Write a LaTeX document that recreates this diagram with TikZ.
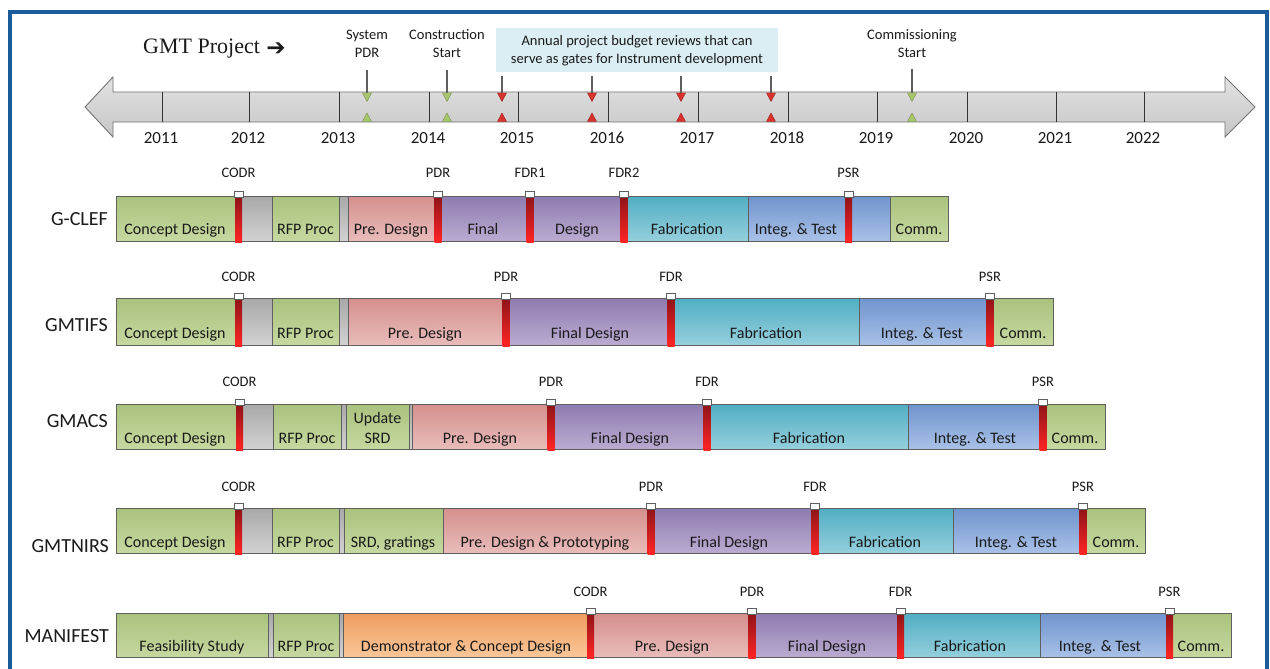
\documentclass[tikz,border=0pt]{standalone}
\usepackage{fontspec}
\setmainfont{Carlito}
\newfontfamily\timesf{Liberation Serif}
\newfontfamily\djv{DejaVu Sans}
\definecolor{frameblue}{HTML}{1B5C9B}
\definecolor{grnT}{HTML}{A9C27D}
\definecolor{grnB}{HTML}{C6D8A0}
\definecolor{gryT}{HTML}{A8A8A8}
\definecolor{gryB}{HTML}{D2D2D2}
\definecolor{pnkT}{HTML}{D58F8C}
\definecolor{pnkB}{HTML}{E8BCBA}
\definecolor{purT}{HTML}{8F7CB0}
\definecolor{purB}{HTML}{B9ABD1}
\definecolor{teaT}{HTML}{50AEC3}
\definecolor{teaB}{HTML}{95CFDD}
\definecolor{bluT}{HTML}{7094CE}
\definecolor{bluB}{HTML}{A8C1E7}
\definecolor{orgT}{HTML}{EE9C5E}
\definecolor{orgB}{HTML}{FAC799}
\definecolor{redT}{HTML}{8E1418}
\definecolor{redB}{HTML}{FF2424}
\definecolor{segline}{HTML}{5F5F5F}
\definecolor{txt}{HTML}{1A1A1A}
\definecolor{boxblue}{HTML}{DAEEF3}
\definecolor{tlT}{HTML}{E2E2E2}
\definecolor{tlB}{HTML}{C6C6C6}
\definecolor{trigrn}{HTML}{A8C66C}
\definecolor{trired}{HTML}{D9312B}
\newcommand\rT{0}
\newcommand\rB{0}
\newcommand\rBase{0}
\newcommand\rL{0}
\newcommand\rowid{r}
\newcommand\seg[5]{%
  \path[segbox,#1] (#2,\rT) rectangle (#3,\rB);
  \node[segtxt] (\rowid-t#2) at (#4,\rBase) {#5};}
\newcommand\segn[3]{%
  \path[segbox,#1] (#2,\rT) rectangle (#3,\rB);}
\newcommand\mrk[2]{%
  \path[redbar] (#1-3.5,\rT) rectangle (#1+3.5,\rB+1);
  \path[capbox] (#1-4.5,\rT-5) rectangle (#1+4.5,\rT+1);
  \node[mlabel] (\rowid-m#1) at (#1,\rL) {#2};}
\tikzset{
  segbox/.style={draw=segline,line width=0.9pt},
  grn/.style={top color=grnT,bottom color=grnB},
  gry/.style={top color=gryT,bottom color=gryB},
  pnk/.style={top color=pnkT,bottom color=pnkB},
  pur/.style={top color=purT,bottom color=purB},
  tea/.style={top color=teaT,bottom color=teaB},
  blu/.style={top color=bluT,bottom color=bluB},
  org/.style={top color=orgT,bottom color=orgB},
  segtxt/.style={anchor=base,inner sep=0pt,text=txt,font=\fontsize{16}{18}\selectfont},
  mlabel/.style={anchor=center,inner sep=0pt,text=txt,font=\fontsize{14.5}{16}\selectfont},
  rowlabel/.style={anchor=base east,inner sep=0pt,text=txt,font=\fontsize{20}{22}\selectfont},
  redbar/.style={top color=redT,bottom color=redB,draw=none},
  capbox/.style={fill=white,draw=segline,line width=0.9pt},
  yearlabel/.style={anchor=base,inner sep=0pt,text=txt,font=\fontsize{17}{18}\selectfont},
  toplabel/.style={anchor=center,inner sep=0pt,text=txt,align=center,font=\fontsize{14.5}{18}\selectfont},
  pointer/.style={draw=segline,line width=1.4pt},
}
\begin{document}
\begin{tikzpicture}[x=1pt,y=-1pt]
\useasboundingbox (0,0) rectangle (1270,669);
\fill[white] (0,0) rectangle (1270,669);
% frame
\draw[frameblue,line width=4pt] (9.5,680) -- (9.5,12.5) -- (1267,12.5) -- (1267,680);

% GMT project title
\node[anchor=base west,inner sep=0pt,text=txt,font=\timesf\fontsize{22}{24}\selectfont] (gmt) at (143,54) {GMT Project};
\node[anchor=west,inner sep=0pt,text=txt,font=\djv\bfseries\fontsize{23}{24}\selectfont] (gmtarrow) at ([xshift=6pt]gmt.east) {\char"2794};

% timeline arrow
\path[top color=tlT,bottom color=tlB,draw=gray!90!black,line width=0.9pt]
  (85,107) -- (113,77) -- (113,92) -- (1225,92) -- (1225,77) -- (1255,107)
  -- (1225,137) -- (1225,122) -- (113,122) -- (113,137) -- cycle;
\foreach \x/\yr in {162/2011,249/2012,339/2013,429/2014,518/2015,608/2016,698/2017,788/2018,877/2019,967/2020,1056/2021,1144/2022}{
  \draw[black!80,line width=0.9pt] (\x,92) -- (\x,122);
  \node[yearlabel] (y\yr) at (\x-1,143) {\yr};
}
% annual review box
\node[fill=boxblue,minimum width=282pt,minimum height=44pt,inner sep=0pt] (annual) at (637,50) {};
\node[toplabel] (annualtxt) at (637,51) {Annual project budget reviews that can\\serve as gates for Instrument development};
\node[toplabel] (spdr) at (367,44) {System\\PDR};
\node[toplabel] (cstart) at (447,44) {Construction\\Start};
\node[toplabel] (comm) at (912,44) {Commissioning\\Start};
\coordinate (g1) at (367,93);
\coordinate (g2) at (447,93);
\coordinate (g3) at (912,93);
\coordinate (r1) at (502,93);
\coordinate (r2) at (592,93);
\coordinate (r3) at (681,93);
\coordinate (r4) at (771,93);
\draw[pointer] (367,70) -- (g1);
\draw[pointer] (447,70) -- (g2);
\draw[pointer] (912,69) -- (g3);
\foreach \c in {r1,r2,r3,r4}{\draw[pointer] (\c |- annual.south) ++(0,4) -- (\c);}
\foreach \x in {367,447,912}{
  \path[fill=trigrn,draw=trigrn!70!black,line width=0.4pt] (\x-4.5,93) -- (\x+4.5,93) -- (\x,101.5) -- cycle;
  \path[fill=trigrn,draw=trigrn!70!black,line width=0.4pt] (\x-4.5,121.5) -- (\x+4.5,121.5) -- (\x,113) -- cycle;
}
\foreach \x in {502,592,681,771}{
  \path[fill=trired,draw=trired!70!black,line width=0.4pt] (\x-4.5,93) -- (\x+4.5,93) -- (\x,101.5) -- cycle;
  \path[fill=trired,draw=trired!70!black,line width=0.4pt] (\x-4.5,121.5) -- (\x+4.5,121.5) -- (\x,113) -- cycle;
}

% ---------- Row 1: G-CLEF
\renewcommand\rowid{gclef}\renewcommand\rT{196}\renewcommand\rB{241}\renewcommand\rBase{234}\renewcommand\rL{173}
\node[rowlabel] (lab-gclef) at (108,225) {G-CLEF};
\seg{grn}{116}{235}{175}{Concept Design}
\segn{gry}{235}{272}
\seg{grn}{272}{339}{305.5}{RFP Proc}
\segn{gry}{339}{348}
\seg{pnk}{348}{438}{391}{Pre. Design}
\seg{pur}{438}{530}{483}{Final}
\seg{pur}{530}{624}{577}{Design}
\seg{tea}{624}{748}{687}{Fabrication}
\seg{blu}{748}{890}{796}{Integ. \& Test}
\seg{grn}{890}{948}{919}{Comm.}
\mrk{238.5}{CODR}\mrk{438}{PDR}\mrk{530}{FDR1}\mrk{624}{FDR2}\mrk{848.5}{PSR}

% ---------- Row 2: GMTIFS
\renewcommand\rowid{gmtifs}\renewcommand\rT{298}\renewcommand\rB{345}\renewcommand\rBase{338}\renewcommand\rL{277}
\node[rowlabel] (lab-gmtifs) at (108,331) {GMTIFS};
\seg{grn}{116}{238}{175}{Concept Design}
\segn{gry}{238}{272}
\seg{grn}{272}{339}{305.5}{RFP Proc}
\segn{gry}{339}{348}
\seg{pnk}{348}{506}{425}{Pre. Design}
\seg{pur}{506}{671}{590}{Final Design}
\seg{tea}{671}{859}{766}{Fabrication}
\seg{blu}{859}{990}{922}{Integ. \& Test}
\seg{grn}{990}{1053}{1023}{Comm.}
\mrk{238.5}{CODR}\mrk{506}{PDR}\mrk{671}{FDR}\mrk{990}{PSR}

% ---------- Row 3: GMACS
\renewcommand\rowid{gmacs}\renewcommand\rT{404}\renewcommand\rB{449}\renewcommand\rBase{443}\renewcommand\rL{382}
\node[rowlabel] (lab-gmacs) at (108,427) {GMACS};
\seg{grn}{116}{239}{175}{Concept Design}
\segn{gry}{239}{273}
\seg{grn}{273}{341}{307}{RFP Proc}
\segn{gry}{341}{346}
\seg{grn}{346}{409}{377.5}{SRD}
\node[segtxt] (gmacs-upd) at (377.5,423) {Update};
\segn{gry}{409}{412}
\seg{pnk}{412}{551}{480}{Pre. Design}
\seg{pur}{551}{707}{630}{Final Design}
\seg{tea}{707}{908}{809}{Fabrication}
\seg{blu}{908}{1043}{975}{Integ. \& Test}
\seg{grn}{1043}{1105}{1075}{Comm.}
\mrk{239.5}{CODR}\mrk{551}{PDR}\mrk{707}{FDR}\mrk{1043}{PSR}

% ---------- Row 4: GMTNIRS
\renewcommand\rowid{gmtnirs}\renewcommand\rT{508}\renewcommand\rB{553}\renewcommand\rBase{547}\renewcommand\rL{487}
\node[rowlabel] (lab-gmtnirs) at (109,552) {GMTNIRS};
\seg{grn}{116}{238}{175}{Concept Design}
\segn{gry}{238}{272}
\seg{grn}{272}{339}{305.5}{RFP Proc}
\segn{gry}{339}{344}
\seg{grn}{344}{443}{393}{SRD, gratings}
\seg{pnk}{443}{651}{545}{Pre. Design \& Prototyping}
\seg{pur}{651}{815}{729}{Final Design}
\seg{tea}{815}{953}{885}{Fabrication}
\seg{blu}{953}{1083}{1016}{Integ. \& Test}
\seg{grn}{1083}{1145}{1116}{Comm.}
\mrk{238.5}{CODR}\mrk{651}{PDR}\mrk{815}{FDR}\mrk{1083}{PSR}

% ---------- Row 5: MANIFEST
\renewcommand\rowid{manifest}\renewcommand\rT{613}\renewcommand\rB{657}\renewcommand\rBase{651}\renewcommand\rL{592}
\node[rowlabel] (lab-manifest) at (109,642) {MANIFEST};
\seg{grn}{116}{268}{192}{Feasibility Study}
\segn{gry}{268}{273}
\seg{grn}{273}{339}{306}{RFP Proc}
\segn{gry}{339}{343}
\seg{org}{343}{590}{466}{Demonstrator \& Concept Design}
\seg{pnk}{590}{752}{672}{Pre. Design}
\seg{pur}{752}{900}{827}{Final Design}
\seg{tea}{900}{1040}{970}{Fabrication}
\seg{blu}{1040}{1169}{1100}{Integ. \& Test}
\seg{grn}{1169}{1231}{1201}{Comm.}
\mrk{590.5}{CODR}\mrk{752}{PDR}\mrk{900.5}{FDR}\mrk{1169.5}{PSR}
\end{tikzpicture}
\end{document}
